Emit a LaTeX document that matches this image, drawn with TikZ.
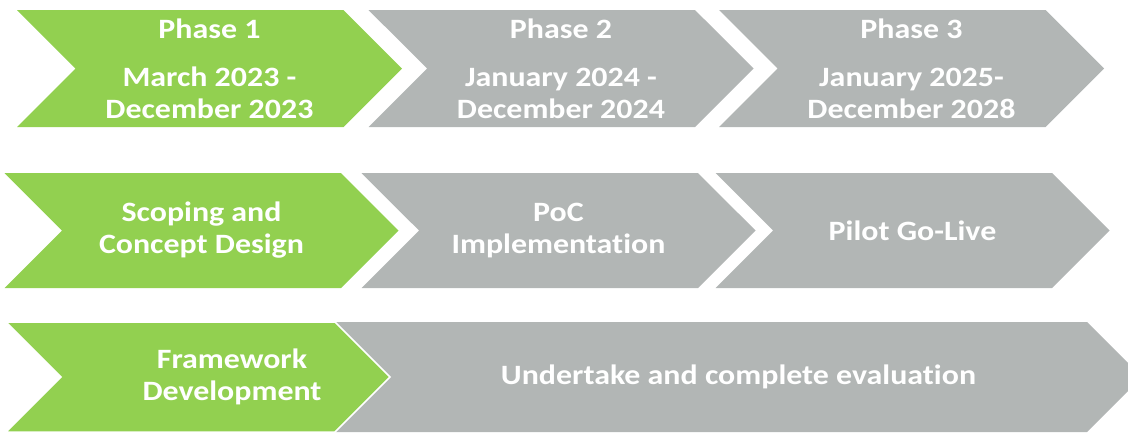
\documentclass[tikz,border=0pt]{standalone}
\usepackage{fontspec}
\setmainfont{Carlito}[Ligatures=NoCommon,FakeStretch=1.14]
\usetikzlibrary{shapes.symbols}
\definecolor{phgreen}{RGB}{146,208,80}
\definecolor{phgray}{RGB}{178,182,181}
\tikzset{
  chev/.style={signal, signal from=west, signal to=east, inner sep=0pt, outer sep=0pt,
    align=center, text=white, font=\fontsize{28}{32}\selectfont\bfseries},
  done/.style={chev, fill=phgreen},
  todo/.style={chev, fill=phgray},
}

\begin{document}
\begin{tikzpicture}[x=1pt,y=-1pt]
    \useasboundingbox (0,0) rectangle (1128,432);
    % phases and dates
    \node[done,minimum width=385,minimum height=117](p1) at (209.5,68.5) {Phase 1\\[16pt]March 2023 -\\December 2023};
    \node[todo,minimum width=385,minimum height=117](p2) at (561,68.5) {Phase 2\\[16pt]January 2024 -\\December 2024};
    \node[todo,minimum width=385,minimum height=117](p3) at (911.5,68.5) {Phase 3\\[16pt]January 2025-\\December 2028};
    % stages
    \node[done,minimum width=394,minimum height=115](s1) at (201.5,230.5) {Scoping and\\Concept Design};
    \node[todo,minimum width=394,minimum height=115](s2) at (558.5,230.5) {PoC\\Implementation};
    \node[todo,minimum width=394,minimum height=115](s3) at (912.5,230.5) {Pilot Go-Live};
    % framework and evaluation
    \node[todo,minimum width=807,minimum height=110](ev) at (738.5,377) {Undertake and complete evaluation};
    \node[done,draw=white,line width=1.5pt,minimum width=384,minimum height=110,
      label={[text=white,font=\fontsize{28}{32}\selectfont\bfseries,align=center,xshift=34]center:{Framework\\Development}}](fw) at (198,377) {};
\end{tikzpicture}
\end{document}
